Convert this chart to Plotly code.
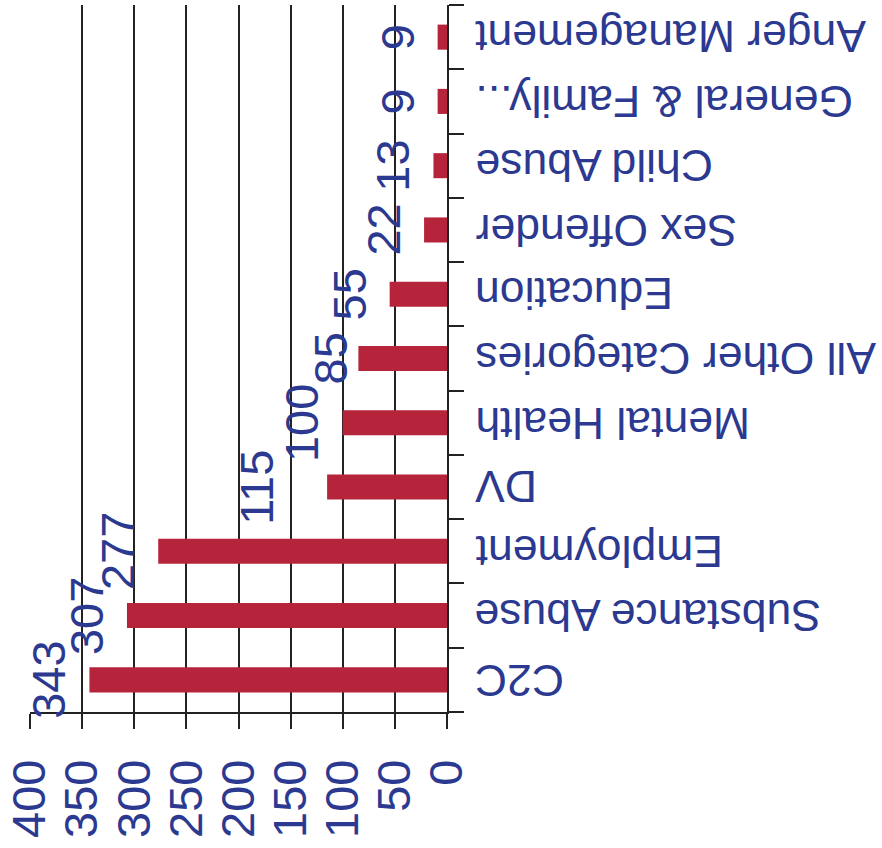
import plotly.graph_objects as go

categories = ["C2C", "Substance Abuse", "Employment", "DV", "Mental Health",
              "All Other Categories", "Education", "Sex Offender", "Child Abuse",
              "General & Family...", "Anger Management"]
values = [343, 307, 277, 115, 100, 85, 55, 22, 13, 9, 9]
x_ticks = [0, 50, 100, 150, 200, 250, 300, 350, 400]

# style: extra horizontal nudges of individual data labels (px)
label_nudge = [0, 0, 0, -31, 0, 13, 0, 0, 0, 0, 0]

TEXT = "#2B3990"
BAR = "#B5243B"
LINE = "#222222"
FONT = "Liberation Sans, Arial, sans-serif"

fig = go.Figure()
fig.add_trace(go.Bar(
    x=values, y=categories, orientation="h",
    marker=dict(color=BAR, line=dict(width=0)),
    hoverinfo="skip",
))

# value labels, rotated
for v, c, dx in zip(values, categories, label_nudge):
    fig.add_annotation(
        x=v, y=c, xref="x", yref="y", text=str(v), showarrow=False,
        textangle=-90, xanchor="right", yanchor="middle",
        xshift=-12 + dx,
        font=dict(family=FONT, size=47, color=TEXT),
    )

# category labels (upside down) on the right of the value axis
for c in categories:
    fig.add_annotation(
        x=0, y=c, xref="x", yref="y", text=c, showarrow=False,
        textangle=180, xanchor="left", yanchor="middle",
        xshift=26,
        font=dict(family=FONT, size=44.5, color=TEXT),
    )

fig.update_layout(
    width=882, height=848,
    margin=dict(l=30, r=435, t=5, b=136),
    paper_bgcolor="white", plot_bgcolor="white",
    bargap=0.61, showlegend=False,
    font=dict(family=FONT, color=TEXT),
)
fig.update_xaxes(
    range=[400, 0], tickvals=x_ticks, ticktext=[str(t) for t in x_ticks],
    tickangle=-90, tickfont=dict(family=FONT, size=47, color=TEXT),
    ticklabelstandoff=12,
    showgrid=True, gridcolor=LINE, gridwidth=1.5,
    showline=True, linecolor=LINE, linewidth=1.5,
    ticks="outside", ticklen=15, tickcolor=LINE, tickwidth=1.5,
    zeroline=False, fixedrange=True, automargin=False,
)
fig.update_yaxes(
    range=[-0.5, len(categories) - 0.5],
    side="right", tickson="boundaries", showticklabels=False,
    showline=True, linecolor=LINE, linewidth=1.5,
    ticks="outside", ticklen=15, tickcolor=LINE, tickwidth=1.5,
    showgrid=False, zeroline=False, fixedrange=True, automargin=False,
)

fig.write_html("out.html", config={"displayModeBar": False},
               post_script="document.body.style.margin='0';")
